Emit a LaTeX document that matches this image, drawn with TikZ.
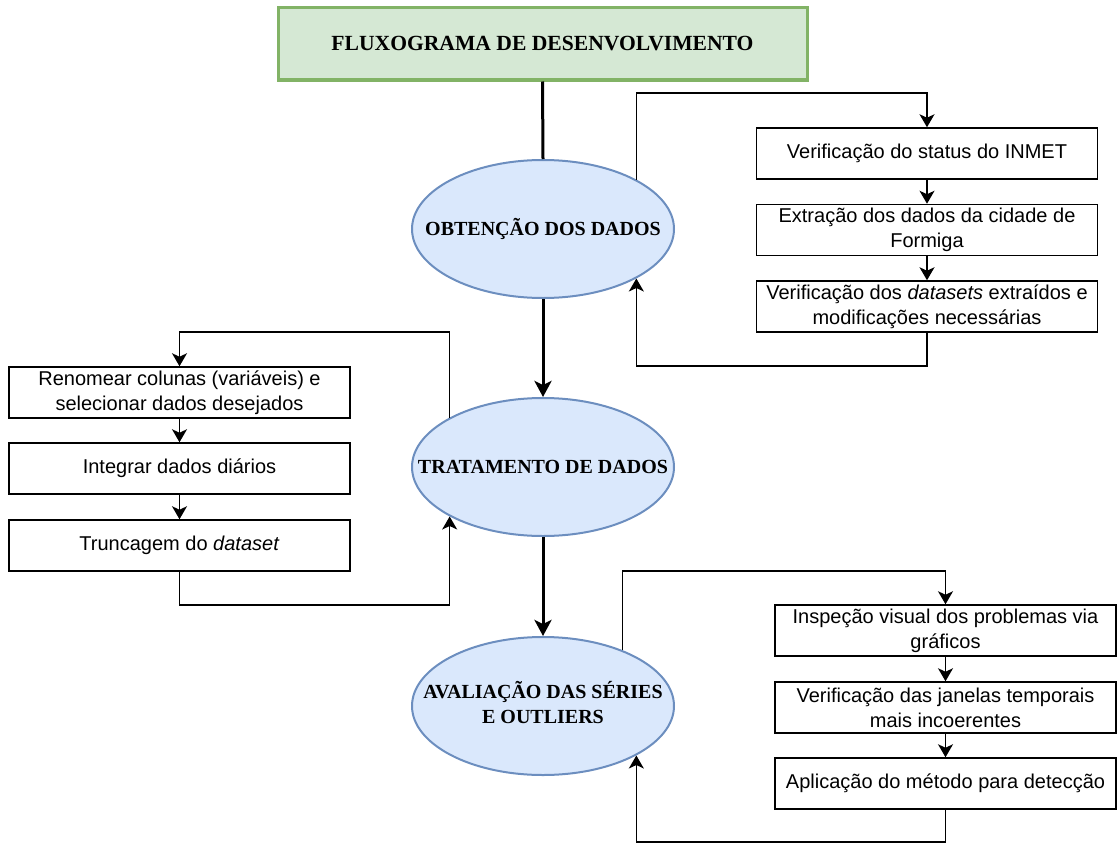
\documentclass[tikz,border=0pt]{standalone}
\usepackage{fontspec}
\setmainfont{Liberation Serif}
\newfontfamily\boxfont{Liberation Sans}
\usetikzlibrary{arrows.meta,shapes.geometric,calc}
\definecolor{titlefill}{HTML}{D5E8D4}
\definecolor{titledraw}{HTML}{82B366}
\definecolor{ellfill}{HTML}{DAE8FC}
\definecolor{elldraw}{HTML}{6C8EBF}
\begin{document}
\begin{tikzpicture}[x=1pt,y=-1pt,
  stepbox/.style={draw=black,line width=1.5pt,minimum width=341pt,minimum height=51pt,inner sep=0pt,align=center,font=\boxfont\fontsize{20}{25}\selectfont},
  phase/.style={ellipse,draw=elldraw,fill=ellfill,line width=2pt,minimum width=262pt,minimum height=138pt,inner sep=0pt,font=\bfseries\fontsize{20}{25}\selectfont},
  titlebox/.style={draw=titledraw,fill=titlefill,line width=3pt,minimum width=529pt,minimum height=72pt,inner sep=0pt,font=\bfseries\fontsize{21.6}{25}\selectfont},
  mainline/.style={line width=3pt,black},
  loopline/.style={line width=1.4pt,black},
  bigtip/.style={-{Stealth[length=16pt,width=17pt,inset=4pt]}},
  smalltip/.style={-{Stealth[length=13pt,width=15pt,inset=3.5pt]}}
]
\useasboundingbox (0,0) rectangle (1119,843);

\node[titlebox] (title) at (542.5,44) {FLUXOGRAMA DE DESENVOLVIMENTO};

\node[phase] (e1) at (543,229) {\makebox[0pt]{OBTENÇÃO DOS DADOS}};
\node[phase] (e2) at (543,467) {\makebox[0pt]{TRATAMENTO DE DADOS}};
\node[phase] (e3) at (543,706) {\makebox[0pt]{\begin{tabular}{@{}c@{}}AVALIAÇÃO DAS SÉRIES\\E OUTLIERS\end{tabular}}};

\node[stepbox] (b1) at (927,153.5) {Verificação do status do INMET};
\node[stepbox] (b2) at (927,230) {Extração dos dados da cidade de\\Formiga};
\node[stepbox] (b3) at (927,306.5) {Verificação dos \textit{datasets} extraídos e\\modificações necessárias};

\node[stepbox] (l1) at (179.5,392.5) {Renomear colunas (variáveis) e\\selecionar dados desejados};
\node[stepbox] (l2) at (179.5,468.5) {Integrar dados diários};
\node[stepbox] (l3) at (179.5,545.5) {Truncagem do \textit{dataset}};

\node[stepbox] (r1) at (945.5,630.5) {Inspeção visual dos problemas via\\gráficos};
\node[stepbox] (r2) at (945.5,707.5) {Verificação das janelas temporais\\mais incoerentes};
\node[stepbox] (r3) at (945.5,783.5) {Aplicação do método para detecção};

\coordinate (c1) at (0,93);
\coordinate (c2) at (0,366);
\coordinate (c3) at (0,332);
\coordinate (c4) at (0,605);
\coordinate (c5) at (0,571);
\coordinate (c6) at (0,842);

% main flow
\draw[mainline] (title.south) -- (e1.north);
\draw[mainline,bigtip] (e1.south) -- (e2.north);
\draw[mainline,bigtip] (e2.south) -- (e3.north);

% group 1
\draw[loopline,smalltip] (e1.north east) |- (b1.north |- c1) -- (b1.north);
\draw[loopline,smalltip] (b1.south) -- (b2.north);
\draw[loopline,smalltip] (b2.south) -- (b3.north);
\draw[loopline,smalltip] (b3.south) -- (b3.south |- c2) -| (e1.south east);

% group 2
\draw[loopline,smalltip] (e2.north west) |- (l1.north |- c3) -- (l1.north);
\draw[loopline,smalltip] (l1.south) -- (l2.north);
\draw[loopline,smalltip] (l2.south) -- (l3.north);
\draw[loopline,smalltip] (l3.south) -- (l3.south |- c4) -| (e2.south west);

% group 3
\draw[loopline,smalltip] (e3.35) |- (r1.north |- c5) -- (r1.north);
\draw[loopline,smalltip] (r1.south) -- (r2.north);
\draw[loopline,smalltip] (r2.south) -- (r3.north);
\draw[loopline,smalltip] (r3.south) -- (r3.south |- c6) -| (e3.south east);
\end{tikzpicture}
\end{document}
